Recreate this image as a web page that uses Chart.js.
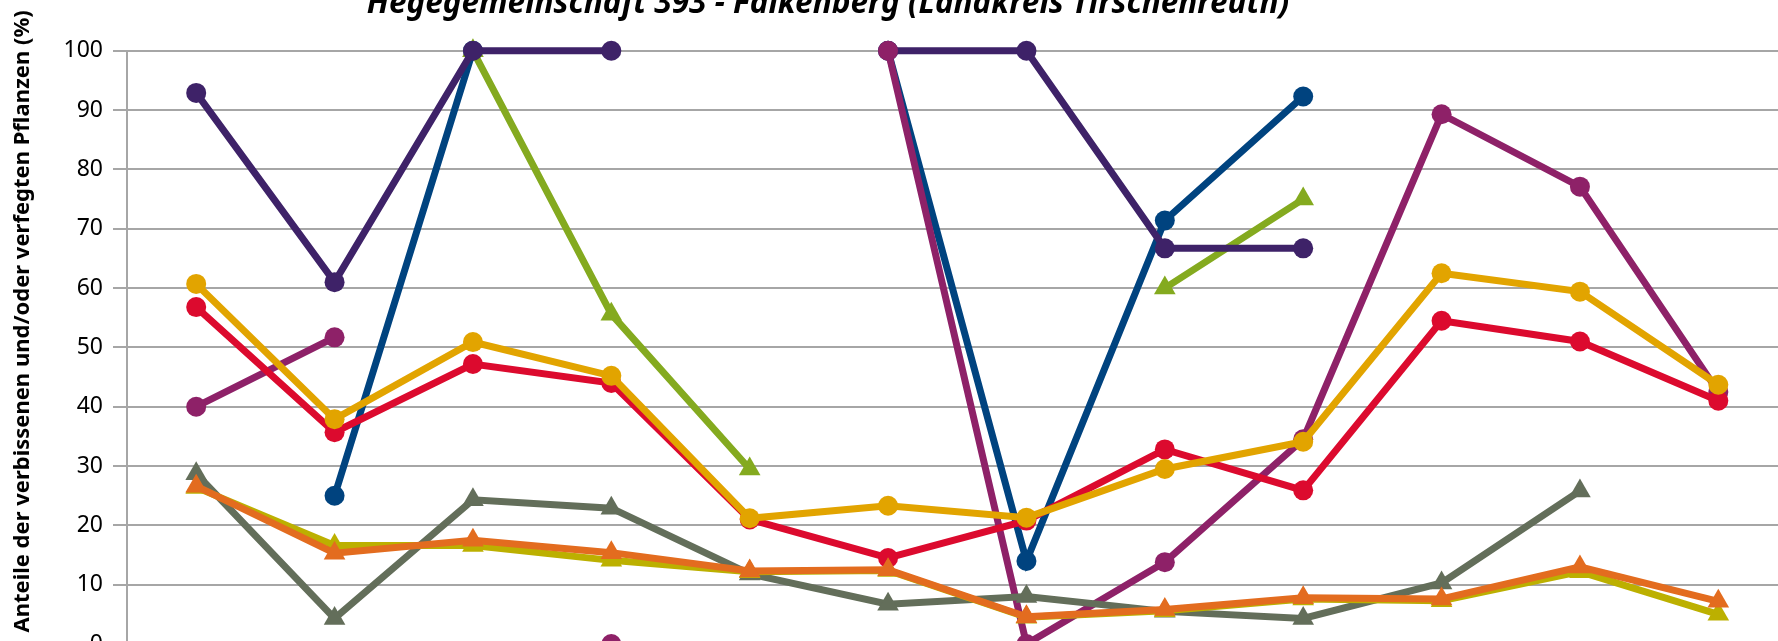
<!DOCTYPE html>
<html lang="de">
<head>
<meta charset="utf-8">
<title>Hegegemeinschaft 393 - Falkenberg</title>
<script src="https://cdn.jsdelivr.net/npm/chart.js@4.4.1/dist/chart.umd.min.js"></script>
<style>
    html, body { margin: 0; padding: 0; background: #fff; overflow: hidden; }
    body { width: 1778px; height: 641px; position: relative; }
    #wrap { position: absolute; left: 0; top: -15px; width: 1800px; height: 700px; }
</style>
</head>
<body>
<div id="wrap"><canvas id="chart" width="1800" height="700"></canvas></div>
<script>
// Aufnahmejahre (x-Achse, liegt unterhalb des sichtbaren Ausschnitts)
const years = ['1991', '1994', '1997', '2000', '2003', '2006', '2009', '2012', '2015', '2018', '2021', '2024'];
const yTicks = [0, 10, 20, 30, 40, 50, 60, 70, 80, 90, 100];

// Werte in %
const serieBlau     = [null, 25.0, 100, null, null, 100, 14.0, 71.4, 92.3, null, null, null];
const serieGruen    = [null, null, 100, 55.6, 29.5, null, null, 60.0, 75.0, null, null, null];
const serieViolett  = [92.9, 61.0, 100, 100, null, 100, 100, 66.7, 66.7, null, null, null];
const serieMagenta  = [40.0, 51.7, null, 0, null, 100, 0, 13.8, 34.5, 89.3, 77.1, 42.5];
const serieRot      = [56.8, 35.7, 47.2, 44.0, 21.0, 14.5, 20.8, 32.8, 25.9, 54.5, 51.0, 41.0];
const serieGelb     = [60.7, 37.9, 50.9, 45.2, 21.2, 23.3, 21.3, 29.5, 34.1, 62.5, 59.4, 43.7];
const serieGrau     = [28.7, 4.3, 24.3, 22.9, 11.8, 6.7, 8.0, 5.5, 4.3, 10.3, 25.8, null];
const serieOliv     = [26.4, 16.6, 16.6, 14.1, 12.2, 12.4, 4.5, 5.6, 7.6, 7.3, 12.2, 5.0];
const serieOrange   = [26.6, 15.3, 17.5, 15.4, 12.3, 12.5, 4.6, 5.8, 7.8, 7.6, 13.0, 7.2];

// Reihenfolge wie in Excel: spätere Reihen liegen oben
const series = [
    { label: 'Reihe 1', data: serieBlau,    color: '#00437f', marker: 'circle' },
    { label: 'Reihe 2', data: serieGruen,   color: '#84aa1f', marker: 'triangle' },
    { label: 'Reihe 3', data: serieViolett, color: '#3e2268', marker: 'circle' },
    { label: 'Reihe 4', data: serieMagenta, color: '#8e2168', marker: 'circle' },
    { label: 'Reihe 5', data: serieRot,     color: '#dc0a2e', marker: 'circle' },
    { label: 'Reihe 6', data: serieGelb,    color: '#e2a400', marker: 'circle' },
    { label: 'Reihe 7', data: serieGrau,    color: '#636e5a', marker: 'triangle' },
    { label: 'Reihe 8', data: serieOliv,    color: '#bcb000', marker: 'triangle' },
    { label: 'Reihe 9', data: serieOrange,  color: '#e36c1f', marker: 'triangle' }
];

// Titel und Achsentitel sitzen in Excel etwas verschoben
const titleShift = {
    id: 'titleShift',
    afterLayout(chart) {
        const t = chart.titleBlock;
        if (!t) return;
        const dx = 828 - (t.left + t.right) / 2;
        t.left += dx;
        t.right += dx;
    },
    beforeDraw(chart) {
        const s = chart.scales.y;
        if (s._titleMoved) return;
        const orig = s.drawTitle.bind(s);
        s.drawTitle = () => {
            chart.ctx.save();
            chart.ctx.translate(0, -26);
            orig();
            chart.ctx.restore();
        };
        s._titleMoved = true;
    }
};

new Chart(document.getElementById('chart'), {
    type: 'line',
    data: {
        labels: years,
        datasets: series.map((s, i) => ({
            label: s.label,
            data: s.data,
            borderColor: s.color,
            backgroundColor: s.color,
            borderWidth: 7,
            pointStyle: s.marker,
            pointRadius: s.marker === 'triangle' ? 12.5 : 10,
            pointBorderWidth: 0,
            tension: 0,
            spanGaps: false,
            clip: false,
            order: series.length - i
        }))
    },
    options: {
        responsive: false,
        animation: false,
        layout: { padding: { top: 0, left: 0, right: 9, bottom: 0 } },
        plugins: {
            legend: { display: false },
            tooltip: { enabled: false },
            title: {
                display: true,
                text: 'Hegegemeinschaft 393 - Falkenberg (Landkreis Tirschenreuth)',
                color: '#000',
                font: { family: '"Noto Sans", "Open Sans", sans-serif', size: 31.5, weight: 'bold', style: 'italic', lineHeight: 1.2 },
                padding: { top: 0, bottom: 28 }
            }
        },
        scales: {
            x: {
                type: 'category',
                offset: true,
                grid: { display: false, drawTicks: false },
                border: { color: '#a6a6a6', width: 2 },
                ticks: { color: '#000', font: { family: '"Noto Sans", sans-serif', size: 21 } },
                afterFit: s => { s.height = 41; }
            },
            y: {
                min: 0,
                max: 100,
                afterBuildTicks: s => { s.ticks = yTicks.map(v => ({ value: v })); },
                grid: { color: '#a6a6a6', lineWidth: 2, tickLength: 14 },
                border: { color: '#a6a6a6', width: 2 },
                ticks: {
                    color: '#000',
                    padding: 10,
                    font: { family: '"Noto Sans", sans-serif', size: 23 }
                },
                title: {
                    display: true,
                    text: 'Anteile der verbissenen und/oder verfegten Pflanzen (%)',
                    color: '#000',
                    font: { family: '"Noto Sans", sans-serif', size: 22, weight: 'bold', lineHeight: 1.2 },
                    padding: { top: 10, bottom: 0 }
                },
                afterFit: s => { s.width = 127; }
            }
        }
    },
    plugins: [titleShift]
});
</script>
</body>
</html>
